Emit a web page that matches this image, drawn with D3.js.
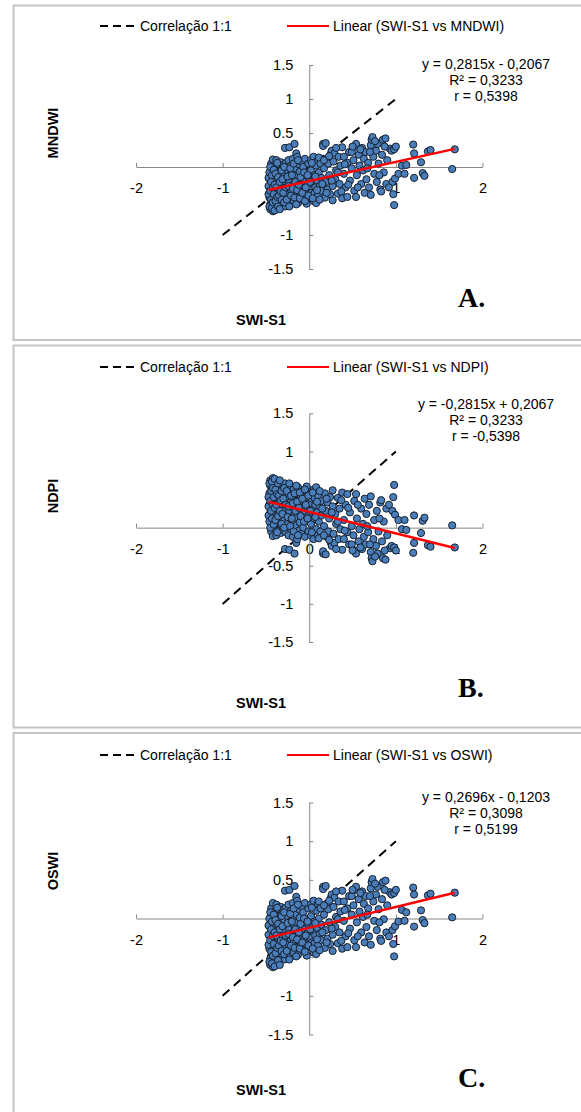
<!DOCTYPE html>
<html>
<head>
<meta charset="utf-8">
<title>SWI-S1 vs indices</title>
<script src="https://d3js.org/d3.v7.min.js"></script>
<style>
  body { margin: 0; background: #fff; }
  text { font-family: "Liberation Sans", Arial, sans-serif; fill: #000; }
</style>
</head>
<body>
<svg id="chart" width="581" height="1112"></svg>
<script>
// SWI-S1 (shared x values of the three panels)
const swiS1 = [
  -0.46,-0.46,-0.45,-0.45,-0.45,-0.44,-0.44,-0.44,-0.43,-0.43,-0.42,-0.42,-0.42,-0.41,-0.41,-0.40,-0.40,-0.40,-0.39,-0.39,-0.38,-0.38,
  -0.38,-0.37,-0.37,-0.36,-0.36,-0.36,-0.35,-0.35,-0.35,-0.34,-0.34,-0.33,-0.33,-0.33,-0.32,-0.32,-0.31,-0.31,-0.31,-0.30,-0.30,-0.30,
  -0.29,-0.29,-0.28,-0.28,-0.28,-0.27,-0.27,-0.26,-0.26,-0.25,-0.25,-0.24,-0.24,-0.23,-0.23,-0.22,-0.22,-0.21,-0.21,-0.20,
  -0.20,-0.19,-0.19,-0.18,-0.18,-0.17,-0.17,-0.16,-0.16,-0.15,-0.15,-0.14,-0.14,-0.13,-0.13,-0.12,-0.12,-0.11,-0.11,-0.10,
  -0.09,-0.09,-0.08,-0.07,-0.07,-0.06,-0.05,-0.05,-0.04,-0.03,-0.03,-0.02,-0.01,0.00,0.00,0.01,0.02,0.02,
  0.03,0.04,0.05,0.05,0.06,0.06,0.07,0.08,0.08,0.09,0.10,0.10,0.11,0.12,0.13,0.14,0.14,
  0.16,0.16,0.17,0.18,0.19,0.19,0.20,0.21,0.22,0.23,0.24,0.25,0.26,0.27,0.27,0.28,0.29,
  0.30,0.31,0.33,0.34,0.35,0.36,0.38,0.38,0.40,0.40,0.42,0.44,0.44,0.46,0.47,0.49,0.49,
  0.51,0.52,0.53,0.54,0.54,0.55,0.57,0.58,0.60,0.61,0.62,0.63,0.64,0.65,0.66,0.68,0.69,0.71,0.71,0.72,0.73,0.74,
  0.75,0.77,0.78,0.79,0.80,0.82,0.83,0.84,0.85,0.86,0.88,0.89,0.90,0.93,0.95,0.96,0.97,0.98,0.98,0.99,1.00,
  1.03,1.07,1.10,1.12,1.20,1.21,1.21,1.29,1.31,1.33,1.37,1.40,1.65,1.68,
  -0.47,-0.47,-0.47,-0.46,-0.46,-0.45,-0.45,-0.44,-0.44,-0.43,-0.43,-0.42,-0.42,-0.41,-0.41,-0.40,-0.40,-0.39,-0.39,-0.38,-0.37,
  -0.37,-0.36,-0.36,-0.35,-0.34,-0.34,-0.33,-0.32,-0.32,-0.31,-0.30,-0.29,-0.29,-0.27,-0.26,-0.25,-0.24,-0.23,-0.22,-0.21,-0.20,
  -0.19,-0.18,-0.17,-0.16,-0.15,-0.14,-0.13,-0.12,-0.11,-0.10,-0.08,-0.06,-0.05,-0.04,-0.02,-0.01,0.01,0.03,0.04,0.07,0.09,
  0.11,0.12,0.15,0.17,0.20,0.23,0.26,0.31,0.33,0.37,0.41,0.45,0.50,0.56,0.59,0.67,0.70,0.76,0.81,0.87,0.92
];
// panel A
const mndwi = [
  -0.45,-0.30,-0.55,-0.20,-0.62,-0.38,-0.10,0.05,-0.50,-0.25,-0.65,-0.42,0.11,-0.15,-0.33,-0.58,-0.05,-0.47,-0.22,0.02,-0.62,-0.37,
  0.10,-0.12,-0.52,-0.28,-0.43,0.04,-0.60,-0.18,-0.34,-0.08,-0.48,-0.25,0.07,-0.56,-0.40,-0.14,-0.30,-0.02,-0.52,-0.20,-0.45,0.03,
  -0.36,-0.10,-0.58,0.28,-0.24,0.06,-0.44,-0.16,-0.32,-0.52,-0.05,0.10,-0.40,0.29,-0.22,-0.55,-0.12,-0.34,0.02,-0.46,
  -0.27,0.12,-0.08,-0.38,-0.50,0.34,-0.18,-0.02,-0.30,0.20,-0.44,0.15,-0.13,-0.24,-0.53,0.04,-0.36,-0.07,-0.20,-0.42,
  0.08,-0.28,-0.15,-0.48,0.00,-0.34,-0.22,0.12,-0.40,-0.10,-0.54,-0.27,0.05,-0.18,-0.44,-0.32,0.10,-0.05,
  -0.38,-0.24,0.15,-0.50,-0.12,-0.39,-0.30,0.02,-0.53,-0.20,0.10,-0.42,-0.08,-0.28,0.05,-0.35,-0.16,
  0.34,0.31,-0.02,-0.45,0.35,-0.22,0.12,-0.33,0.05,-0.12,-0.40,0.20,0.24,-0.49,-0.28,0.08,0.20,
  -0.18,-0.05,-0.39,0.15,-0.25,0.02,0.29,-0.46,0.15,-0.10,-0.30,0.06,-0.44,0.22,-0.20,0.22,-0.02,
  0.10,-0.35,0.30,0.34,-0.44,-0.12,0.18,0.02,-0.25,0.28,-0.05,0.12,-0.38,0.22,-0.18,0.06,-0.30,0.32,-0.41,0.40,0.44,0.15,
  -0.10,0.24,-0.22,0.34,0.05,-0.33,-0.36,0.18,0.40,-0.08,0.42,-0.25,0.10,0.27,0.24,-0.22,-0.40,0.26,-0.56,-0.17,0.30,
  -0.10,0.02,-0.10,0.03,0.33,0.20,-0.16,0.07,-0.09,-0.13,0.23,0.25,-0.03,0.26,
  -0.40,-0.28,-0.16,-0.58,-0.08,-0.35,0.00,-0.48,-0.22,-0.60,-0.12,-0.30,-0.52,-0.04,-0.40,-0.64,-0.26,-0.50,-0.10,-0.30,-0.44,
  0.06,-0.58,-0.15,-0.42,-0.22,-0.62,-0.36,-0.05,-0.48,-0.18,-0.38,-0.52,0.00,-0.30,-0.48,-0.14,-0.28,-0.58,-0.02,-0.42,-0.12,
  -0.32,0.05,-0.45,-0.22,-0.55,-0.34,0.10,-0.26,-0.46,-0.15,-0.38,-0.08,-0.50,-0.30,-0.12,-0.42,-0.22,0.06,-0.46,-0.14,-0.34,
  0.14,-0.48,-0.25,0.10,-0.38,0.16,-0.20,0.28,-0.08,-0.36,0.04,-0.26,0.30,-0.30,0.26,-0.02,0.22,0.38,-0.12,0.30,-0.30
];
// panel B
const ndpi = [
  0.45,0.30,0.55,0.20,0.62,0.38,0.10,-0.05,0.50,0.25,0.65,0.42,-0.11,0.15,0.33,0.58,0.05,0.47,0.22,-0.02,0.62,0.37,
  -0.10,0.12,0.52,0.28,0.43,-0.04,0.60,0.18,0.34,0.08,0.48,0.25,-0.07,0.56,0.40,0.14,0.30,0.02,0.52,0.20,0.45,-0.03,
  0.36,0.10,0.58,-0.28,0.24,-0.06,0.44,0.16,0.32,0.52,0.05,-0.10,0.40,-0.29,0.22,0.55,0.12,0.34,-0.02,0.46,
  0.27,-0.12,0.08,0.38,0.50,-0.34,0.18,0.02,0.30,-0.20,0.44,-0.15,0.13,0.24,0.53,-0.04,0.36,0.07,0.20,0.42,
  -0.08,0.28,0.15,0.48,0.00,0.34,0.22,-0.12,0.40,0.10,0.54,0.27,-0.05,0.18,0.44,0.32,-0.10,0.05,
  0.38,0.24,-0.15,0.50,0.12,0.39,0.30,-0.02,0.53,0.20,-0.10,0.42,0.08,0.28,-0.05,0.35,0.16,
  -0.34,-0.31,0.02,0.45,-0.35,0.22,-0.12,0.33,-0.05,0.12,0.40,-0.20,-0.24,0.49,0.28,-0.08,-0.20,
  0.18,0.05,0.39,-0.15,0.25,-0.02,-0.29,0.46,-0.15,0.10,0.30,-0.06,0.44,-0.22,0.20,-0.22,0.02,
  -0.10,0.35,-0.30,-0.34,0.44,0.12,-0.18,-0.02,0.25,-0.28,0.05,-0.12,0.38,-0.22,0.18,-0.06,0.30,-0.32,0.41,-0.40,-0.44,-0.15,
  0.10,-0.24,0.22,-0.34,-0.05,0.33,0.36,-0.18,-0.40,0.08,-0.42,0.25,-0.10,-0.27,-0.24,0.22,0.40,-0.26,0.56,0.17,-0.30,
  0.10,-0.02,0.10,-0.03,-0.33,-0.20,0.16,-0.07,0.09,0.13,-0.23,-0.25,0.03,-0.26,
  0.40,0.28,0.16,0.58,0.08,0.35,0.00,0.48,0.22,0.60,0.12,0.30,0.52,0.04,0.40,0.64,0.26,0.50,0.10,0.30,0.44,
  -0.06,0.58,0.15,0.42,0.22,0.62,0.36,0.05,0.48,0.18,0.38,0.52,0.00,0.30,0.48,0.14,0.28,0.58,0.02,0.42,0.12,
  0.32,-0.05,0.45,0.22,0.55,0.34,-0.10,0.26,0.46,0.15,0.38,0.08,0.50,0.30,0.12,0.42,0.22,-0.06,0.46,0.14,0.34,
  -0.14,0.48,0.25,-0.10,0.38,-0.16,0.20,-0.28,0.08,0.36,-0.04,0.26,-0.30,0.30,-0.26,0.02,-0.22,-0.38,0.12,-0.30,0.30
];
// panel C
const oswi = [
  -0.39,-0.22,-0.52,-0.12,-0.60,-0.31,-0.02,0.13,-0.45,-0.17,-0.63,-0.36,0.20,-0.07,-0.26,-0.55,0.03,-0.41,-0.14,0.10,-0.58,-0.30,
  0.18,-0.04,-0.47,-0.20,-0.37,0.12,-0.57,-0.10,-0.27,0.00,-0.42,-0.18,0.15,-0.52,-0.33,-0.06,-0.23,0.06,-0.47,-0.12,-0.39,0.11,
  -0.29,-0.02,-0.53,0.36,-0.16,0.14,-0.38,-0.08,-0.25,-0.46,0.03,0.18,-0.33,0.37,-0.14,-0.50,-0.04,-0.27,0.10,-0.40,
  -0.19,0.20,0.00,-0.31,-0.44,0.42,-0.10,0.06,-0.23,0.28,-0.37,0.23,-0.05,-0.16,-0.47,0.12,-0.29,0.01,-0.12,-0.35,
  0.16,-0.20,-0.07,-0.41,0.08,-0.27,-0.14,0.20,-0.33,-0.02,-0.48,-0.19,0.13,-0.10,-0.37,-0.25,0.18,0.03,
  -0.31,-0.16,0.23,-0.44,-0.04,-0.32,-0.22,0.10,-0.46,-0.12,0.19,-0.35,0.00,-0.20,0.13,-0.28,-0.08,
  0.41,0.38,0.05,-0.38,0.42,-0.15,0.19,-0.26,0.12,-0.05,-0.33,0.27,0.31,-0.42,-0.21,0.15,0.27,
  -0.11,0.02,-0.32,0.22,-0.18,0.09,0.36,-0.39,0.22,-0.03,-0.23,0.13,-0.37,0.29,-0.13,0.29,0.05,
  0.17,-0.28,0.37,0.41,-0.37,-0.05,0.25,0.09,-0.18,0.35,0.02,0.19,-0.31,0.29,-0.11,0.13,-0.23,0.39,-0.34,0.47,0.51,0.22,
  -0.03,0.31,-0.15,0.41,0.12,-0.26,-0.29,0.25,0.47,-0.01,0.49,-0.18,0.17,0.34,0.31,-0.15,-0.33,0.33,-0.49,-0.10,0.37,
  -0.04,0.11,-0.03,0.08,0.40,0.31,-0.105,0.105,-0.02,-0.06,0.30,0.32,0.015,0.334,
  -0.34,-0.21,-0.09,-0.56,0.00,-0.28,0.08,-0.43,-0.14,-0.58,-0.04,-0.23,-0.48,0.05,-0.33,-0.62,-0.18,-0.45,-0.02,-0.22,-0.38,
  0.14,-0.54,-0.07,-0.35,-0.14,-0.60,-0.29,0.03,-0.42,-0.10,-0.31,-0.46,0.08,-0.22,-0.42,-0.06,-0.20,-0.53,0.06,-0.35,-0.04,
  -0.24,0.13,-0.38,-0.14,-0.49,-0.27,0.18,-0.18,-0.39,-0.07,-0.31,0.00,-0.43,-0.22,-0.04,-0.35,-0.14,0.14,-0.39,-0.06,-0.27,
  0.22,-0.41,-0.18,0.17,-0.31,0.23,-0.13,0.35,-0.01,-0.29,0.11,-0.19,0.37,-0.23,0.33,0.05,0.29,0.45,-0.05,0.37,-0.23
];

const xTicks = [-2, -1, 0, 1, 2];
const yTicks = [-1.5, -1, -0.5, 0, 0.5, 1, 1.5];
const oneToOne = [-1, 1];
const yNames = ["MNDWI", "NDPI", "OSWI"];
const letters = ["A.", "B.", "C."];
const slopes = [0.2815, -0.2815, 0.2696];
const intercepts = [-0.2067, 0.2067, -0.1203];
const equations = [
  ["y = 0,2815x - 0,2067", "R² = 0,3233", "r = 0,5398"],
  ["y = -0,2815x + 0,2067", "R² = 0,3233", "r = -0,5398"],
  ["y = 0,2696x - 0,1203", "R² = 0,3098", "r = 0,5199"]
];
const series = [mndwi, ndpi, oswi];

// layout of the three stacked panels (pixels)
const layout = [
  { top: 5.5, bottom: 340, y0: 269, y1: 65, legendY: 26, eqY: 64, titleY: 325, letterY: 307, yTitleY: 133 },
  { top: 345.5, bottom: 727.5, y0: 642, y1: 413.3, legendY: 367, eqY: 404, titleY: 708, letterY: 697, yTitleY: 496 },
  { top: 733, bottom: 1130, y0: 1034.5, y1: 802.5, legendY: 755, eqY: 797, titleY: 1095, letterY: 1087, yTitleY: 871 }
];

const svg = d3.select("#chart");
const x = d3.scaleLinear().domain([-2, 2]).range([136, 482.5]);
const xExtent = d3.extent(swiS1);
const tickText = function(d) { return String(d); };

layout.forEach(function(L, i) {
  const g = svg.append("g");
  const y = d3.scaleLinear().domain([-1.5, 1.5]).range([L.y0, L.y1]);
  const values = series[i];

  // frame
  g.append("rect")
    .attr("x", 13.5).attr("y", L.top)
    .attr("width", 600).attr("height", L.bottom - L.top)
    .attr("fill", "none").attr("stroke", "#c4c4c4").attr("stroke-width", 2);

  // legend
  g.append("line")
    .attr("x1", 100).attr("x2", 137).attr("y1", L.legendY).attr("y2", L.legendY)
    .attr("stroke", "#000").attr("stroke-width", 2).attr("stroke-dasharray", "8,5");
  g.append("text").attr("x", 140).attr("y", L.legendY + 5)
    .style("font-size", "14px").text("Correlação 1:1");
  g.append("line")
    .attr("x1", 287).attr("x2", 329).attr("y1", L.legendY).attr("y2", L.legendY)
    .attr("stroke", "#ff0000").attr("stroke-width", 2);
  g.append("text").attr("x", 333).attr("y", L.legendY + 5)
    .style("font-size", "14px").text("Linear (SWI-S1 vs " + yNames[i] + ")");

  // axes crossing at zero
  const xAxis = d3.axisBottom(x).tickValues(xTicks).tickSizeInner(-4).tickSizeOuter(0).tickPadding(16)
    .tickFormat(tickText);
  const yAxis = d3.axisLeft(y).tickValues(yTicks).tickSizeInner(-4).tickSizeOuter(0).tickPadding(16)
    .tickFormat(tickText);
  const gx = g.append("g").attr("transform", "translate(0," + y(0) + ")").call(xAxis);
  const gy = g.append("g").attr("transform", "translate(" + x(0) + ",0)").call(yAxis);
  [gx, gy].forEach(function(a) {
    a.selectAll("path, line").attr("stroke", "#878787");
    a.selectAll("text").style("font-size", "14.5px")
      .style("font-family", "'Liberation Sans', Arial, sans-serif").attr("fill", "#000");
  });

  // 1:1 line
  g.append("line")
    .attr("x1", x(oneToOne[0])).attr("y1", y(oneToOne[0]))
    .attr("x2", x(oneToOne[1])).attr("y2", y(oneToOne[1]))
    .attr("stroke", "#000").attr("stroke-width", 2).attr("stroke-dasharray", "9,6");

  // points
  g.append("g").selectAll("circle")
    .data(swiS1.map(function(v, k) { return [v, values[k]]; }))
    .enter().append("circle")
      .attr("cx", function(d) { return x(d[0]); })
      .attr("cy", function(d) { return y(d[1]); })
      .attr("r", 3.6)
      .attr("fill", "#4a7ebb")
      .attr("stroke", "#16202e")
      .attr("stroke-width", 1);

  // trendline
  g.append("line")
    .attr("x1", x(xExtent[0])).attr("y1", y(slopes[i] * xExtent[0] + intercepts[i]))
    .attr("x2", x(xExtent[1])).attr("y2", y(slopes[i] * xExtent[1] + intercepts[i]))
    .attr("stroke", "#ff0000").attr("stroke-width", 2.5);

  // equation
  g.append("text").attr("x", 486).attr("y", L.eqY + 5)
    .attr("text-anchor", "middle").style("font-size", "14px")
    .selectAll("tspan").data(equations[i]).enter().append("tspan")
      .attr("x", 486).attr("dy", function(d, k) { return k ? 16 : 0; })
      .text(function(d) { return d; });

  // axis titles
  g.append("text").attr("x", 261).attr("y", L.titleY)
    .attr("text-anchor", "middle").style("font-size", "14.5px").style("font-weight", "bold")
    .text("SWI-S1");
  g.append("text")
    .attr("transform", "translate(58," + L.yTitleY + ") rotate(-90)")
    .attr("text-anchor", "middle").style("font-size", "14.5px").style("font-weight", "bold")
    .text(yNames[i]);

  // panel letter
  g.append("text").attr("x", 458).attr("y", L.letterY)
    .style("font-family", "'Liberation Serif', 'Times New Roman', serif")
    .style("font-size", "28px").style("font-weight", "bold")
    .text(letters[i]);
});
</script>
</body>
</html>
